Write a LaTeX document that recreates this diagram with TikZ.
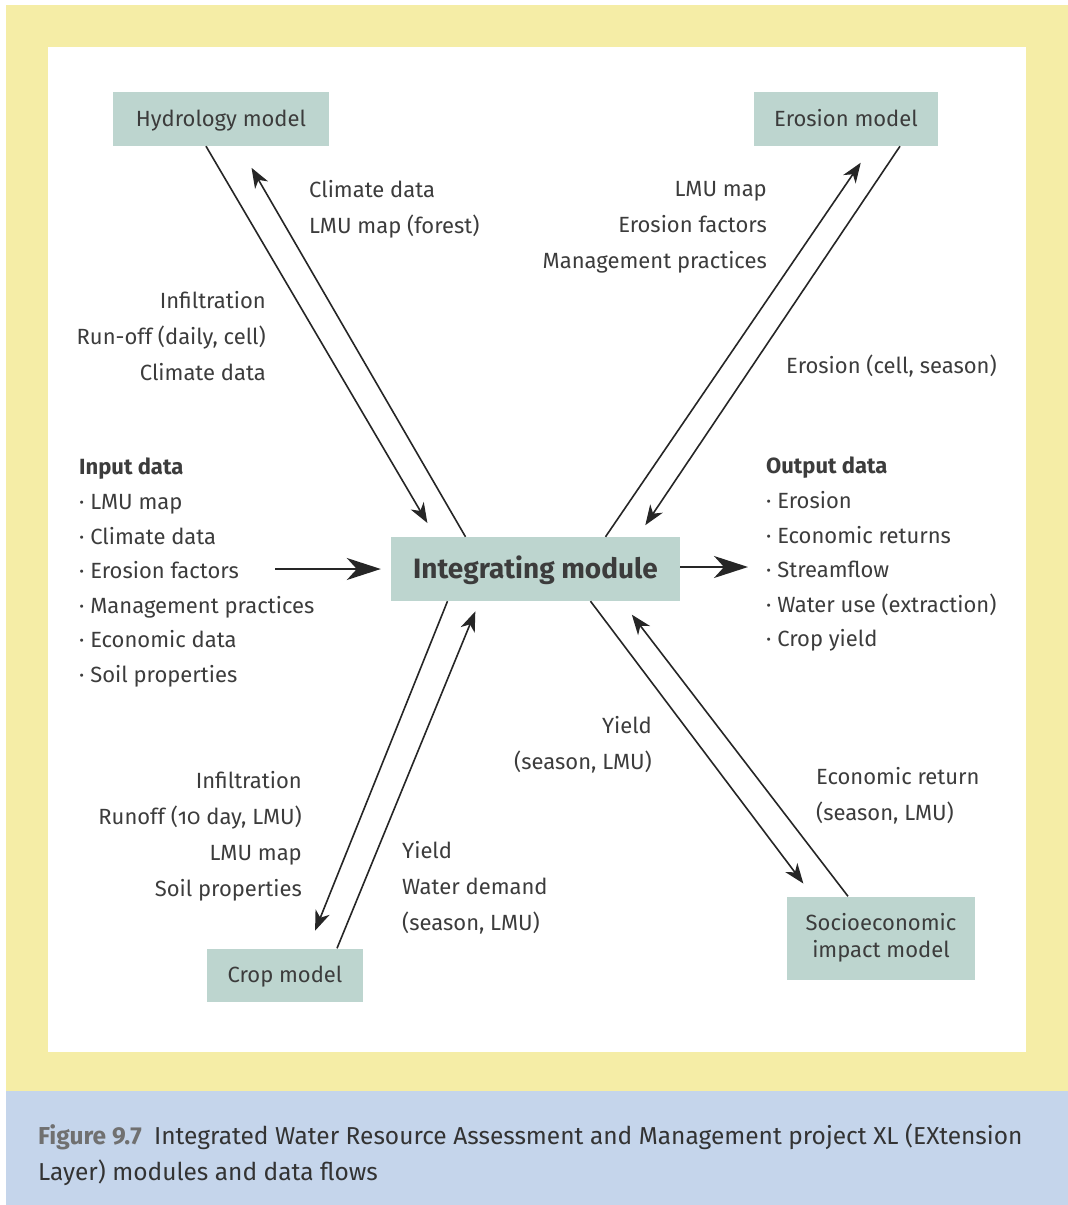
\documentclass[tikz,border=0pt]{standalone}
\usepackage{fontspec}
\setmainfont{Fira Sans}
\usetikzlibrary{arrows.meta,positioning}
\definecolor{panelyellow}{HTML}{F5EDA6}
\definecolor{capblue}{HTML}{C5D5EB}
\definecolor{boxgreen}{HTML}{BDD5CF}
\definecolor{txtgray}{HTML}{3C3C3C}
\definecolor{figgray}{HTML}{707070}
\begin{document}
\begin{tikzpicture}[x=1pt, y=-1pt,
    model/.style={fill=boxgreen, text=txtgray, align=center, inner sep=0pt, font=\fontsize{22}{27}\selectfont},
    oneline/.style={text height=19pt, text depth=4pt},
    lbl/.style={text=txtgray, inner sep=0pt, font=\fontsize{22}{36}\selectfont},
    lst/.style={text=txtgray, inner sep=0pt, align=left, font=\fontsize{22}{34.6}\selectfont},
    arr/.style={-{Stealth[length=20pt, width=15pt, inset=6pt]}, line width=1.6pt, black!85},
    bigarr/.style={-{Stealth[length=34pt, width=22pt, inset=10pt]}, line width=1.8pt, black!85}
]
\useasboundingbox (0,0) rectangle (1068,1205);
\fill[panelyellow] (6,5) rectangle (1068,1091);
\fill[white] (48,47) rectangle (1026,1052);
\fill[capblue] (6,1091) rectangle (1068,1205);

\node[model, oneline, minimum width=216pt, minimum height=54pt] (hyd) at (221,119) {Hydrology model};
\node[model, oneline, minimum width=184pt, minimum height=54pt] (ero) at (846,119) {Erosion model};
\node[model, minimum width=289pt, minimum height=64pt, text height=24pt, text depth=5pt, font=\fontsize{28}{34}\selectfont\bfseries] (integ) at (535.5,569) {Integrating module};
\node[model, oneline, minimum width=156pt, minimum height=53pt] (crop) at (285,975) {Crop model};
\node[model, minimum width=188pt, minimum height=83pt] (socio) at (881,938) {Socioeconomic\\impact model};

\draw[arr, shorten >=16pt] ([xshift=-15pt]hyd.south) -- ([xshift=-100pt]integ.north);
\draw[arr, shorten >=25pt] ([xshift=-70pt]integ.north) -- ([xshift=18pt]hyd.south);
\draw[arr, shorten >=20pt] ([xshift=70pt]integ.north) -- ([xshift=26pt]ero.south);
\draw[arr, shorten >=14pt] ([xshift=54pt]ero.south) -- ([xshift=102pt]integ.north);
\draw[arr, shorten >=19pt] ([xshift=-88pt]integ.south) -- ([xshift=23pt]crop.north);
\draw[arr, shorten >=11pt] ([xshift=52pt]crop.north) -- ([xshift=-56pt]integ.south);
\draw[arr, shorten >=16pt] ([xshift=55pt]integ.south) -- ([xshift=-68pt]socio.north);
\draw[arr, shorten >=17pt] ([xshift=-33pt]socio.north) -- ([xshift=86pt]integ.south);

\node[lbl, align=left, anchor=north west] (hydin) at (309,180) {Climate data\\LMU map (forest)};
\node[lbl, align=right, anchor=north east] (hydout) at (266,291) {Infiltration\\Run-off (daily, cell)\\Climate data};
\node[lbl, align=right, anchor=north east] (eroin) at (767,181) {LMU map\\Erosion factors\\Management practices};
\node[lbl, align=left, anchor=north west] (eroout) at (786,355) {Erosion (cell, season)};
\node[lbl, align=right, anchor=north east] (socioin) at (652,716) {Yield\\(season, LMU)};
\node[lbl, align=left, anchor=north west] (socioout) at (816,767) {Economic return\\(season, LMU)};
\node[lbl, align=right, anchor=north east] (cropin) at (302,771) {Infiltration\\Runoff ({\addfontfeature{Numbers=OldStyle}10} day, LMU)\\LMU map\\Soil properties};
\node[lbl, align=left, anchor=north west] (cropout) at (402,841) {Yield\\Water demand\\(season, LMU)};

\node[lst, anchor=north west] (inp) at (79,458) {\textbf{Input data}\\·\ LMU map\\·\ Climate data\\·\ Erosion factors\\·\ Management practices\\·\ Economic data\\·\ Soil properties};
\node[lst, anchor=north west] (outp) at (766,457) {\textbf{Output data}\\·\ Erosion\\·\ Economic returns\\·\ Streamflow\\·\ Water use (extraction)\\·\ Crop yield};

\coordinate (inarr) at (275,569);
\draw[bigarr, shorten >=10pt] (inarr) -- (integ.west);
\draw[bigarr, shorten >=18pt] ([yshift=2pt]integ.east) -- ([yshift=2pt]integ.east -| outp.west);

\node[anchor=north west, inner sep=0pt, align=left, text=black!80, font=\fontsize{24.5}{36}\selectfont] (cap) at (38,1124)
  {{\color{figgray}\bfseries Figure 9.7}\enspace Integrated Water Resource Assessment and Management project XL (EXtension\\Layer) modules and data flows};
\end{tikzpicture}
\end{document}
